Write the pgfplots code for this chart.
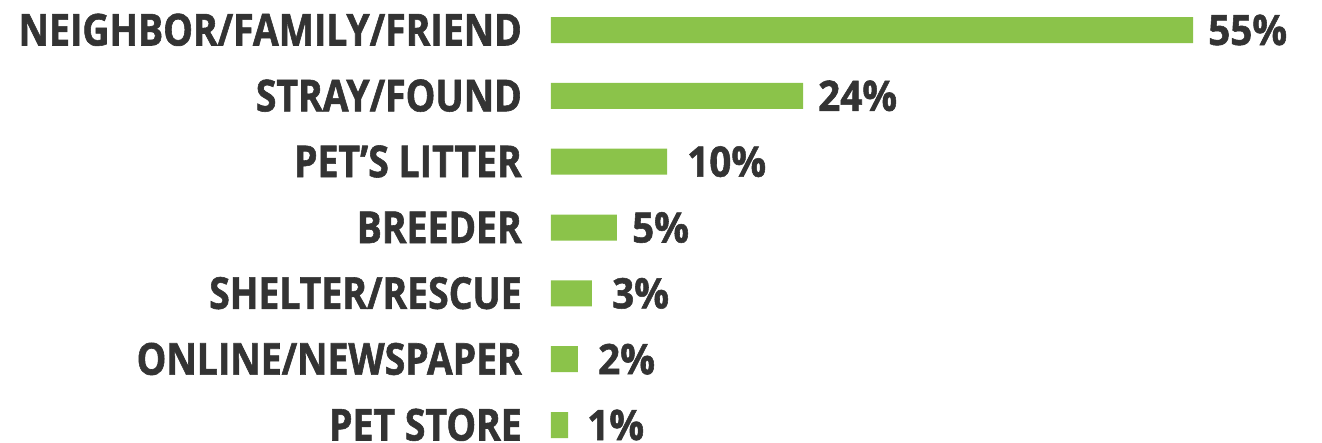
\documentclass[border=0pt]{standalone}
\usepackage{fontspec}
\usepackage{pgfplots}
\pgfplotsset{compat=1.18}
\setmainfont{Open Sans}
\newfontfamily\catfont{Open Sans}[FakeStretch=0.85, FakeBold=1.3]
\newfontfamily\numfont{Open Sans}[FakeStretch=0.92, FakeBold=1.3]
\definecolor{bargreen}{HTML}{8BC34A}
\definecolor{txt}{HTML}{333333}
\begin{document}
\begin{tikzpicture}
\begin{axis}[
  scale only axis, width=771pt, height=442pt,
  xmin=0, xmax=66.05, ymin=-0.258, ymax=6.456,
  xbar, bar width=26pt,
  axis line style={draw=none}, major tick length=0pt,
  xtick=\empty, ytick={0,...,6},
  yticklabels={PET STORE,ONLINE/NEWSPAPER,SHELTER/RESCUE,BREEDER,PET’S LITTER,STRAY/FOUND,NEIGHBOR/FAMILY/FRIEND},
  yticklabel style={font=\catfont\bfseries\fontsize{44}{44}\selectfont, text=txt, anchor=base east, inner sep=0pt, xshift=-29pt, yshift=-15.5pt},
  nodes near coords, point meta=explicit symbolic,
  nodes near coords style={font=\numfont\bfseries\fontsize{42}{42}\selectfont, text=txt, anchor=base west, inner sep=0pt, xshift=15pt, yshift=-15pt},
  clip=false,
]
\addplot[fill=bargreen, draw=none] coordinates {
  (1.46,0) [\hspace{4pt}1\%]
  (2.31,1) [\hspace{5pt}2\%]
  (3.51,2) [\hspace{5pt}3\%]
  (5.65,3) [5\%]
  (9.94,4) [\hspace{5pt}10\%]
  (21.59,5) [24\%]
  (55,6) [55\%]
};
\end{axis}
\pgfresetboundingbox
\path (current axis.south west) ++(-551pt,0) rectangle (current axis.north east);
\end{tikzpicture}
\end{document}
